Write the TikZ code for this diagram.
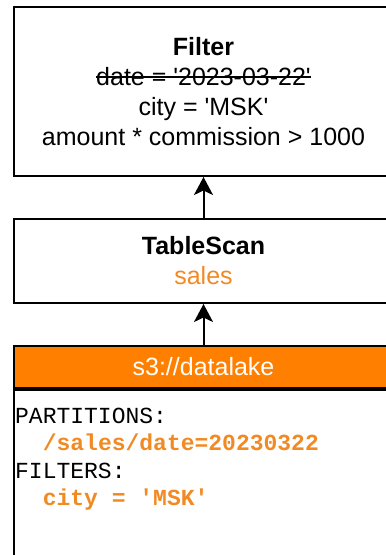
\documentclass[tikz,border=0pt]{standalone}
\usepackage{fontspec}
\setmainfont{Liberation Sans}
\setmonofont{Liberation Mono}
\usetikzlibrary{arrows.meta}
\definecolor{hdrorange}{RGB}{255,128,0}
\definecolor{txtorange}{RGB}{242,138,36}
\newcommand\mystrike[1]{\begingroup\setbox0=\hbox{#1}\rlap{\rule[0.3em]{\wd0}{1.8pt}}\box0\endgroup}
\newcommand\sq{\textquotesingle}
\tikzset{
  opbox/.style={draw=black, line width=2pt, fill=white, minimum width=380pt, align=center, inner sep=0pt,
    font=\fontsize{25}{30}\selectfont},
  flowarrow/.style={draw=black, line width=2pt, -{Stealth[length=18pt,width=19pt,inset=4.5pt]}},
  monoline/.style={anchor=base west, inner sep=0pt, font=\ttfamily\fontsize{23}{27.6}\selectfont}
}
\begin{document}
\begin{tikzpicture}[x=1pt,y=-1pt]
\useasboundingbox (0,0) rectangle (386,555);
\clip (0,0) rectangle (386,555);
\fill[white] (0,0) rectangle (386,555);
% Filter
\node[opbox, minimum height=169.5pt] (filter) at (203.5,91.25)
  {\textbf{Filter}\\\mystrike{date = \sq 2023-03-22\sq}\\city = \sq MSK\sq\\amount * commission > 1000};
% TableScan
\node[opbox, minimum height=84pt] (scan) at (203.5,261)
  {\textbf{TableScan}\\\textcolor{txtorange}{sales}};
% Datalake header
\node[opbox, fill=hdrorange, minimum height=42pt, text=white] (lake) at (203.5,367) {s3://datalake};
% Datalake body
\node[draw=black, line width=2pt, fill=white, minimum width=380pt, minimum height=230pt, anchor=north, inner sep=0pt] (lakebody) at (lake.south) {};
\node[monoline] (p1) at (15,423) {PARTITIONS:};
\node[monoline, text=txtorange] (p2) at (15,450.6) {\bfseries\ \ /sales/date=20230322};
\node[monoline] (p3) at (15,478.2) {FILTERS:};
\node[monoline, text=txtorange] (p4) at (15,505.8) {\bfseries\ \ city = 'MSK'};
% arrows
\draw[flowarrow] (scan.north) -- (filter.south);
\draw[flowarrow] (lake.north) -- (scan.south);
\end{tikzpicture}
\end{document}
